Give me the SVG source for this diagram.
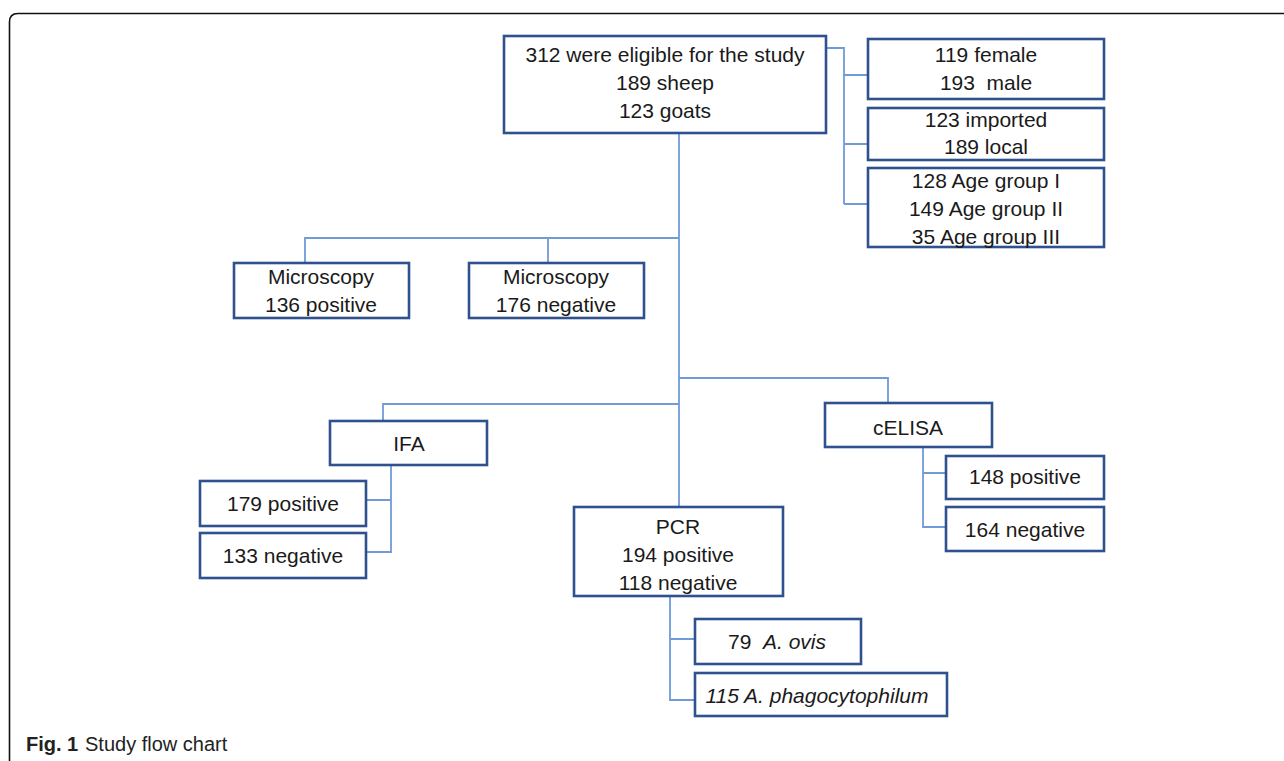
<svg xmlns="http://www.w3.org/2000/svg" width="1284" height="761" viewBox="0 0 1284 761">
<style>
.box{fill:#fff;stroke:#2F528F;stroke-width:2.6}
.t{font-family:"Liberation Sans",Arial,sans-serif;font-size:21px;fill:#1a1a1a;text-anchor:middle}
.i{font-style:italic}
.c{fill:none;stroke:#6F9BD9;stroke-width:1.8}
.cap{font-family:"Liberation Sans",Arial,sans-serif;font-size:20px;fill:#222}
</style>
<rect width="1284" height="761" fill="#fff"/>
<path d="M9.5,761 V22 Q9.5,13.5 18,13.5 H1284" fill="none" stroke="#111" stroke-width="1.6"/>
<g id="connectors">
<path class="c" d="M679,133 V507"/>
<path class="c" d="M305,263 V238 H679 M548,238 V263"/>
<path class="c" d="M826,48 H844 V204 M844,75 H868 M844,144 H868 M844,204 H868"/>
<path class="c" d="M383,421 V404 H679"/>
<path class="c" d="M679,378 H888 V403"/>
<path class="c" d="M391,465 V552 H366 M391,500 H366"/>
<path class="c" d="M923,447 V527 H946 M923,473 H946"/>
<path class="c" d="M670,596 V700 H695 M670,639 H695"/>
</g>
<g id="n-top"><rect class="box" x="504" y="36" width="322" height="97"/>
<text class="t" x="665" y="62">312 were eligible for the study</text>
<text class="t" x="665" y="90">189 sheep</text>
<text class="t" x="665" y="118">123 goats</text></g>
<g id="n-sex"><rect class="box" x="868" y="39" width="236" height="60"/>
<text class="t" x="986" y="62">119 female</text>
<text class="t" x="986" y="90" xml:space="preserve">193  male</text></g>
<g id="n-origin"><rect class="box" x="868" y="108" width="236" height="52"/>
<text class="t" x="986" y="127">123 imported</text>
<text class="t" x="986" y="154">189 local</text></g>
<g id="n-age"><rect class="box" x="868" y="168" width="236" height="79"/>
<text class="t" x="986" y="188">128 Age group I</text>
<text class="t" x="986" y="216">149 Age group II</text>
<text class="t" x="986" y="244">35 Age group III</text></g>
<g id="n-micpos"><rect class="box" x="234" y="263" width="175" height="55"/>
<text class="t" x="321" y="284">Microscopy</text>
<text class="t" x="321" y="312">136 positive</text></g>
<g id="n-micneg"><rect class="box" x="469" y="263" width="175" height="55"/>
<text class="t" x="556" y="284">Microscopy</text>
<text class="t" x="556" y="312">176 negative</text></g>
<g id="n-ifa"><rect class="box" x="330" y="421" width="157" height="44"/>
<text class="t" x="409" y="451">IFA</text></g>
<g id="n-ifapos"><rect class="box" x="200" y="481" width="166" height="45"/>
<text class="t" x="283" y="511">179 positive</text></g>
<g id="n-ifaneg"><rect class="box" x="200" y="533" width="166" height="45"/>
<text class="t" x="283" y="563">133 negative</text></g>
<g id="n-celisa"><rect class="box" x="825" y="403" width="167" height="44"/>
<text class="t" x="908" y="435">cELISA</text></g>
<g id="n-celpos"><rect class="box" x="946" y="456" width="158" height="43"/>
<text class="t" x="1025" y="484">148 positive</text></g>
<g id="n-celneg"><rect class="box" x="946" y="507" width="158" height="44"/>
<text class="t" x="1025" y="537">164 negative</text></g>
<g id="n-pcr"><rect class="box" x="574" y="507" width="209" height="89"/>
<text class="t" x="678" y="534">PCR</text>
<text class="t" x="678" y="562">194 positive</text>
<text class="t" x="678" y="590">118 negative</text></g>
<g id="n-ovis"><rect class="box" x="695" y="619" width="166" height="45"/>
<text class="t" x="777" y="649" xml:space="preserve">79  <tspan class="i">A. ovis</tspan></text></g>
<g id="n-phago"><rect class="box" x="695" y="673" width="252" height="43"/>
<text class="t i" x="817" y="703">115 A. phagocytophilum</text></g>
<text class="cap" x="26" y="751" font-weight="bold">Fig. 1</text>
<text class="cap" x="85" y="751">Study flow chart</text>
</svg>
